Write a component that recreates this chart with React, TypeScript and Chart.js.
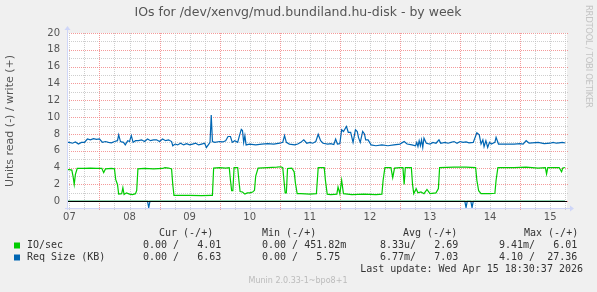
import React, { useEffect, useRef } from 'react';
import { Chart, registerables } from 'chart.js';

Chart.register(...registerables);

const TITLE = 'IOs for /dev/xenvg/mud.bundiland.hu-disk - by week';
const Y_TITLE = 'Units read (-) / write (+)';
const SIDE_TEXT = 'RRDTOOL / TOBI OETIKER';
const DAY_LABELS = ['07', '08', '09', '10', '11', '12', '13', '14', '15'];
const Y_TICKS = [0, 2, 4, 6, 8, 10, 12, 14, 16, 18, 20];

// time axis in days since "07" 00:00
const ioTimes = [
  -0.04, 0.0, 0.04, 0.06, 0.08, 0.10, 0.13, 0.25, 0.35, 0.45, 0.54, 0.57, 0.60, 0.70, 0.75, 0.77, 0.80, 0.82,
  0.87, 0.89, 0.91, 0.95, 1.00, 1.05, 1.10, 1.12, 1.14, 1.25, 1.40, 1.55, 1.59, 1.65, 1.70, 1.72, 1.74,
  2.0, 2.2, 2.35, 2.38, 2.40, 2.5, 2.6, 2.66, 2.68, 2.70, 2.72, 2.74, 2.80, 2.82, 2.84, 2.88, 2.92, 2.96,
  3.00, 3.05, 3.08, 3.10, 3.14, 3.3, 3.45, 3.52, 3.55, 3.57, 3.59, 3.61, 3.63, 3.70, 3.74, 3.76, 3.79,
  3.85, 4.0, 4.11, 4.14, 4.24, 4.26, 4.29, 4.35, 4.45, 4.47, 4.50, 4.53, 4.56, 4.7, 4.9, 5.1, 5.2, 5.22,
  5.25, 5.35, 5.38, 5.41, 5.5, 5.55, 5.57, 5.59, 5.69, 5.71, 5.73, 5.77, 5.80, 5.85, 5.90, 5.95, 6.0,
  6.1, 6.14, 6.16, 6.4, 6.6, 6.76, 6.78, 6.81, 6.85, 7.0, 7.08, 7.10, 7.13, 7.4, 7.6, 7.8, 7.92, 7.94,
  7.96, 8.15, 8.19, 8.21, 8.245,
];
const ioWrite = [
  3.75, 3.75, 3.7, 3.0, 2.0, 3.2, 3.9, 3.9, 3.95, 3.9, 3.9, 3.4, 3.85, 3.9, 3.85, 2.6, 2.0, 0.85,
  0.9, 1.6, 0.8, 1.0, 0.85, 0.8, 0.9, 1.3, 3.85, 3.9, 3.85, 3.9, 4.0, 3.95, 3.85, 2.0, 0.7,
  0.7, 0.68, 0.7, 0.7, 3.95, 4.0, 3.95, 4.0, 2.5, 1.25, 1.25, 4.0, 4.0, 2.5, 1.15, 1.1, 0.85, 1.0,
  1.0, 1.1, 1.3, 3.0, 3.95, 4.0, 4.05, 4.1, 4.0, 2.5, 1.0, 1.0, 3.9, 3.95, 3.5, 2.2, 0.9,
  0.9, 0.85, 0.9, 4.0, 4.0, 2.5, 0.85, 0.8, 0.85, 1.7, 0.9, 2.5, 0.9, 0.8, 0.85, 0.8, 0.85, 2.5,
  4.0, 4.0, 2.8, 3.95, 4.0, 4.0, 2.0, 4.0, 4.0, 2.0, 0.9, 1.5, 1.0, 1.1, 0.9, 1.4, 0.9,
  1.0, 1.5, 4.0, 4.05, 4.05, 4.0, 2.5, 1.25, 0.9, 0.9, 0.95, 2.5, 4.0, 4.0, 4.05, 3.95, 4.0, 3.25,
  4.0, 4.0, 3.5, 3.95, 4.01,
];
const ioReadTimes = [-0.04, 8.245];
const ioRead = [0, 0];

const reqTimes = [
  -0.04, 0.0, 0.05, 0.1, 0.15, 0.2, 0.25, 0.3, 0.35, 0.4, 0.45, 0.5, 0.55, 0.6, 0.65, 0.7, 0.75, 0.8, 0.82,
  0.85, 0.9, 0.93, 0.97, 1.0, 1.03, 1.06, 1.1, 1.15, 1.2, 1.25, 1.3, 1.35, 1.4, 1.45, 1.5, 1.55, 1.6,
  1.65, 1.7, 1.72, 1.76, 1.8, 1.85, 1.9, 1.95, 2.0, 2.05, 2.1, 2.15, 2.2, 2.25, 2.28, 2.32, 2.34, 2.36,
  2.38, 2.42, 2.5, 2.55, 2.6, 2.64, 2.68, 2.71, 2.75, 2.80, 2.83, 2.86, 2.88, 2.90, 2.92, 2.94, 3.0,
  3.1, 3.2, 3.3, 3.4, 3.5, 3.55, 3.58, 3.61, 3.66, 3.75, 3.8, 3.85, 3.9, 3.95, 4.0, 4.05, 4.1, 4.14,
  4.18, 4.22, 4.3, 4.35, 4.40, 4.43, 4.46, 4.5, 4.53, 4.56, 4.61, 4.64, 4.68, 4.72, 4.76, 4.79, 4.81,
  4.84, 4.88, 4.91, 4.93, 4.97, 5.02, 5.1, 5.2, 5.3, 5.4, 5.5, 5.57, 5.62, 5.7, 5.76, 5.78, 5.8, 5.82,
  5.84, 5.86, 5.88, 5.90, 5.94, 6.0, 6.05, 6.1, 6.15, 6.18, 6.25, 6.3, 6.35, 6.4, 6.45, 6.5, 6.55,
  6.6, 6.65, 6.72, 6.78, 6.82, 6.85, 6.88, 6.90, 6.93, 6.96, 6.99, 7.02, 7.08, 7.10, 7.14, 7.2, 7.3,
  7.4, 7.5, 7.55, 7.60, 7.65, 7.7, 7.8, 7.9, 8.0, 8.05, 8.1, 8.15, 8.2, 8.245,
];
const reqWrite = [
  7.0, 7.0, 6.9, 7.05, 6.8, 7.0, 7.0, 7.4, 7.3, 7.45, 7.35, 7.4, 7.0, 7.1, 7.0, 6.95, 7.1, 7.2, 7.9,
  7.1, 7.0, 6.7, 7.2, 7.1, 7.8, 7.0, 7.2, 7.2, 7.3, 7.1, 7.4, 7.2, 7.3, 7.3, 7.1, 7.4, 7.2,
  7.3, 7.1, 6.6, 6.8, 6.7, 6.9, 6.7, 6.85, 6.7, 6.8, 6.9, 6.7, 6.8, 6.9, 6.4, 6.8, 7.0, 10.25,
  7.1, 7.0, 7.1, 7.05, 7.2, 7.7, 7.7, 7.0, 7.2, 7.0, 7.8, 8.55, 8.4, 7.0, 7.8, 6.7, 6.8,
  6.7, 6.8, 6.85, 6.8, 6.9, 7.0, 7.8, 7.0, 6.8, 6.7, 6.8, 7.0, 7.3, 6.9, 7.0, 6.9, 7.1, 7.95,
  7.2, 6.9, 6.8, 6.85, 6.75, 7.4, 6.8, 6.85, 8.5, 8.3, 8.9, 8.2, 8.2, 7.0, 8.5, 8.3, 7.6,
  7.0, 8.3, 8.0, 7.3, 7.3, 6.7, 6.6, 6.7, 6.6, 6.7, 6.8, 7.1, 6.8, 6.7, 6.6, 7.0, 6.5, 7.2,
  6.6, 7.3, 6.4, 7.5, 6.9, 6.8, 7.0, 6.9, 7.3, 6.9, 7.0, 6.9, 7.0, 7.1, 6.9, 7.1, 7.0,
  7.05, 6.95, 7.0, 8.15, 7.9, 6.8, 7.3, 6.5, 7.2, 6.4, 7.0, 6.8, 7.0, 7.6, 6.8, 6.8, 6.8,
  6.8, 6.85, 6.8, 7.2, 6.9, 6.95, 7.0, 6.85, 6.9, 7.0, 6.9, 6.95, 7.0, 6.95,
];
const reqReadTimes = [-0.04, 1.30, 1.32, 1.34, 6.58, 6.60, 6.62, 6.68, 6.70, 6.72, 8.245];
const reqRead = [0, 0, -0.75, 0, 0, -0.75, 0, 0, -0.75, 0, 0];

const LEGEND_HEADERS = ['Cur (-/+)', 'Min (-/+)', 'Avg (-/+)', 'Max (-/+)'];
const SERIES_NAMES = ['IO/sec', 'Req Size (KB)'];
const IO_STATS = ['0.00 /   4.01', '0.00 / 451.82m', '8.33u/   2.69', '9.41m/   6.01'];
const REQ_STATS = ['0.00 /   6.63', '0.00 /   5.75', '6.77m/   7.03', '4.10 /  27.36'];
const LAST_UPDATE = 'Last update: Wed Apr 15 18:30:37 2026';
const MUNIN_VERSION = 'Munin 2.0.33-1~bpo8+1';

const GREEN = '#00cc00';
const BLUE = '#0066b3';
const AXIS = '#cfd6f8';
const MONO = '"DejaVu Sans Mono", monospace';
const SANS = '"DejaVu Sans", sans-serif';

const pts = (t: number[], v: number[]) => t.map((x, i) => ({ x, y: v[i] }));

const muninPlugin = {
  id: 'munin',
  beforeDraw(chart: any) {
    const { ctx, chartArea: a, width, height } = chart;
    ctx.save();
    ctx.fillStyle = '#f0f0f0';
    ctx.fillRect(0, 0, width, height);
    ctx.fillStyle = '#ffffff';
    ctx.fillRect(a.left, a.top, a.right - a.left, a.bottom - a.top);
    ctx.restore();
  },
  beforeDatasetsDraw(chart: any) {
    const { ctx, chartArea: a, scales } = chart;
    const xs = scales.x;
    const ys = scales.y;
    ctx.save();
    ctx.lineWidth = 1;
    ctx.setLineDash([1, 1]);
    const top = Y_TICKS[Y_TICKS.length - 1];
    for (let v = 0; v <= top; v += 1) {
      const py = Math.round(ys.getPixelForValue(v)) + 0.5;
      ctx.strokeStyle = v % 2 === 0 ? 'rgba(240,120,120,0.75)' : 'rgba(190,190,190,0.75)';
      ctx.beginPath();
      ctx.moveTo(a.left, py);
      ctx.lineTo(a.right + 2, py);
      ctx.stroke();
    }
    for (let q = 0; q <= (DAY_LABELS.length - 1) * 4 + 1; q++) {
      const d = q / 4;
      const px = Math.round(xs.getPixelForValue(d)) + 0.5;
      if (px > a.right + 1) break;
      ctx.strokeStyle = q % 4 === 2 ? 'rgba(240,120,120,0.75)' : 'rgba(190,190,190,0.75)';
      ctx.beginPath();
      ctx.moveTo(px, a.top);
      ctx.lineTo(px, a.bottom + 2);
      ctx.stroke();
    }
    ctx.restore();
  },
  afterDatasetsDraw(chart: any) {
    const { ctx, chartArea: a, scales } = chart;
    const ys = scales.y;
    ctx.save();
    const y0 = Math.round(ys.getPixelForValue(0)) + 0.5;
    ctx.strokeStyle = '#000000';
    ctx.lineWidth = 1;
    ctx.beginPath();
    ctx.moveTo(a.left, y0);
    ctx.lineTo(a.right, y0);
    ctx.stroke();
    ctx.strokeStyle = AXIS;
    ctx.fillStyle = AXIS;
    const ax = a.left + 0.5;
    const by = a.bottom + 0.5;
    ctx.beginPath();
    ctx.moveTo(ax, a.bottom + 2);
    ctx.lineTo(ax, a.top - 4);
    ctx.moveTo(a.left - 2, by);
    ctx.lineTo(a.right + 4, by);
    ctx.stroke();
    ctx.beginPath();
    ctx.moveTo(ax - 3, a.top - 3);
    ctx.lineTo(ax, a.top - 7);
    ctx.lineTo(ax + 3, a.top - 3);
    ctx.closePath();
    ctx.fill();
    ctx.beginPath();
    ctx.moveTo(a.right + 3, by - 3);
    ctx.lineTo(a.right + 7, by);
    ctx.lineTo(a.right + 3, by + 3);
    ctx.closePath();
    ctx.fill();
    ctx.restore();
  },
  afterDraw(chart: any) {
    const { ctx } = chart;
    ctx.save();
    ctx.fillStyle = '#555555';
    ctx.font = `12.5px ${SANS}`;
    ctx.textAlign = 'center';
    ctx.textBaseline = 'middle';
    ctx.fillText(TITLE, 298, 13);
    ctx.save();
    ctx.translate(10.5, 121);
    ctx.rotate(-Math.PI / 2);
    ctx.font = `11px ${SANS}`;
    ctx.fillStyle = '#555555';
    ctx.fillText(Y_TITLE, 0, 0);
    ctx.restore();
    // watermark, drawn letter by letter to span its full length
    ctx.save();
    ctx.translate(585.5, 5);
    ctx.rotate(Math.PI / 2);
    ctx.font = `8.5px ${SANS}`;
    ctx.fillStyle = '#c4c4c4';
    ctx.textAlign = 'left';
    ctx.textBaseline = 'alphabetic';
    const natural = ctx.measureText(SIDE_TEXT).width;
    const gap = (103 - natural) / (SIDE_TEXT.length - 1);
    let cx = 0;
    for (const ch of SIDE_TEXT) {
      ctx.fillText(ch, cx, 0);
      cx += ctx.measureText(ch).width + gap;
    }
    ctx.restore();
    ctx.font = `10px ${MONO}`;
    ctx.textAlign = 'left';
    ctx.fillStyle = '#333333';
    const colX = [143, 262, 380, 499];
    const headX = [159, 262, 403, 524];
    LEGEND_HEADERS.forEach((h, i) => ctx.fillText(h, headX[i], 233.5));
    const rowsY = [245.5, 257.5];
    const colors = [GREEN, BLUE];
    const stats = [IO_STATS, REQ_STATS];
    SERIES_NAMES.forEach((n, r) => {
      ctx.fillStyle = colors[r];
      ctx.fillRect(14, rowsY[r] - 3, 6, 6);
      ctx.fillStyle = '#333333';
      ctx.fillText(n, 27, rowsY[r]);
      stats[r].forEach((s, i) => ctx.fillText(s, colX[i], rowsY[r]));
    });
    ctx.textAlign = 'right';
    ctx.fillText(LAST_UPDATE, 583, 269.5);
    ctx.textAlign = 'center';
    ctx.font = `8px ${SANS}`;
    ctx.fillStyle = '#bbbbbb';
    ctx.fillText(MUNIN_VERSION, 298, 281);
    ctx.restore();
  },
};

export default function App() {
  const ref = useRef<HTMLCanvasElement | null>(null);
  useEffect(() => {
    if (!ref.current) return;
    const chart = new Chart(ref.current, {
      type: 'line',
      data: {
        datasets: [
          { label: 'IO/sec read', data: pts(ioReadTimes, ioRead), borderColor: GREEN, borderWidth: 1.2, pointRadius: 0 },
          { label: 'Req Size read', data: pts(reqReadTimes, reqRead), borderColor: BLUE, borderWidth: 1.2, pointRadius: 0 },
          { label: 'IO/sec', data: pts(ioTimes, ioWrite), borderColor: GREEN, borderWidth: 1.2, pointRadius: 0 },
          { label: 'Req Size (KB)', data: pts(reqTimes, reqWrite), borderColor: BLUE, borderWidth: 1.2, pointRadius: 0 },
        ],
      },
      options: {
        responsive: false,
        devicePixelRatio: 1,
        animation: false,
        events: [],
        layout: { padding: { top: 33, right: 30, left: 0, bottom: 0 } },
        plugins: { legend: { display: false }, title: { display: false }, tooltip: { enabled: false } },
        scales: {
          x: {
            type: 'linear',
            min: -0.04,
            max: 8.28,
            grid: { display: false, drawTicks: false },
            border: { display: false },
            afterBuildTicks: (s: any) => {
              s.ticks = DAY_LABELS.map((_, i) => ({ value: i }));
            },
            afterFit: (s: any) => {
              s.height = 84;
            },
            ticks: {
              autoSkip: false,
              maxRotation: 0,
              padding: 3,
              color: '#555555',
              font: { family: SANS, size: 10 },
              callback: (v: any) => DAY_LABELS[Math.round(Number(v))] ?? '',
            },
          },
          y: {
            type: 'linear',
            min: -0.8,
            max: 20,
            grid: { display: false, drawTicks: false },
            border: { display: false },
            afterBuildTicks: (s: any) => {
              s.ticks = Y_TICKS.map((v) => ({ value: v }));
            },
            afterFit: (s: any) => {
              s.width = 67;
            },
            ticks: {
              autoSkip: false,
              padding: 7,
              color: '#555555',
              font: { family: SANS, size: 10 },
              callback: (v: any) => String(v),
            },
          },
        },
      },
      plugins: [muninPlugin],
    });
    return () => chart.destroy();
  }, []);
  return (
    <div style={{ position: 'fixed', left: 0, top: 0, width: 597, height: 292, background: '#f0f0f0' }}>
      <canvas ref={ref} width={597} height={292} style={{ display: 'block', width: 597, height: 292 }} />
    </div>
  );
}
